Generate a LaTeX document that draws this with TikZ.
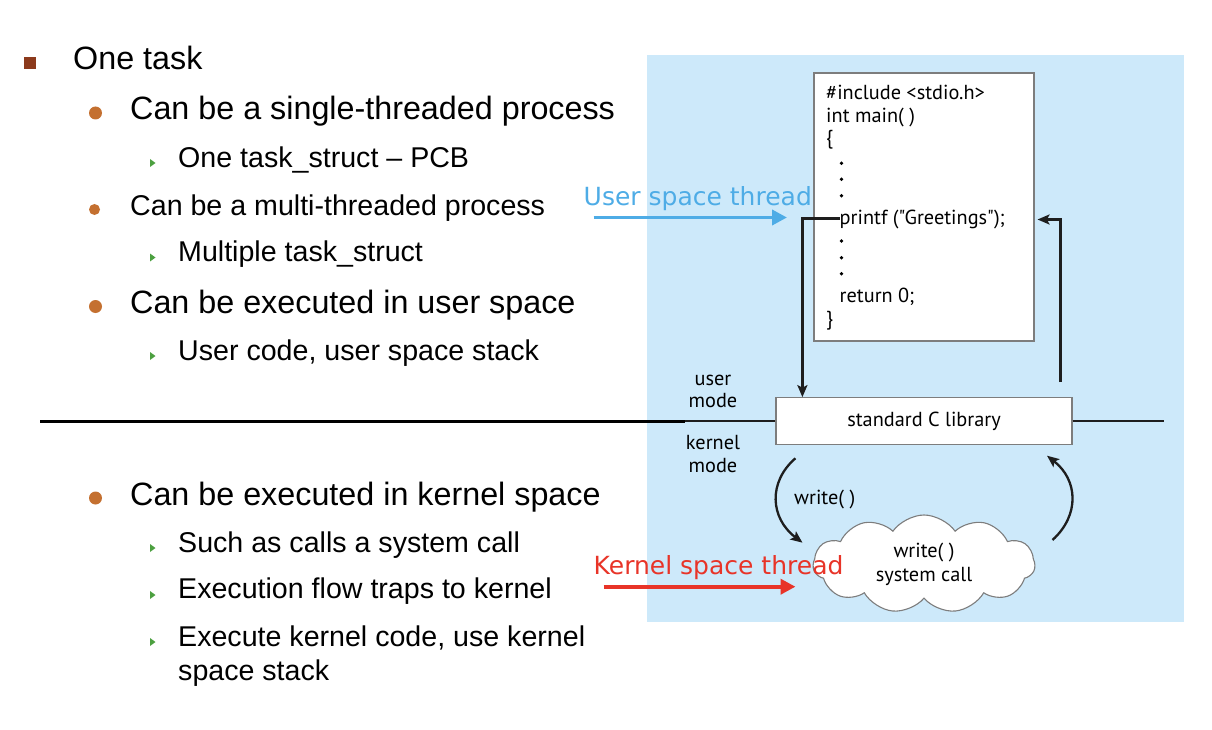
\documentclass[tikz,border=0pt]{standalone}
\usepackage{fontspec}
\setmainfont{Liberation Sans}
\newfontfamily\codefont{PT Sans}
\newfontfamily\notefont{DejaVu Sans}
\usetikzlibrary{shapes.symbols,arrows.meta}

\definecolor{panelblue}{RGB}{205,233,250}
\definecolor{sqbrown}{RGB}{140,58,28}
\definecolor{dotorange}{RGB}{196,112,48}
\definecolor{tipgreen}{RGB}{76,160,64}
\definecolor{userblue}{RGB}{78,172,230}
\definecolor{kernred}{RGB}{232,52,40}
\definecolor{boxgray}{RGB}{125,125,125}
\definecolor{inkdark}{RGB}{30,30,30}

\begin{document}
\begin{tikzpicture}[x=1pt,y=-1pt,
  lvlone/.style={anchor=base west, inner sep=0pt, font=\fontsize{32.3}{38}\selectfont},
  lvltwo/.style={anchor=base west, inner sep=0pt, font=\fontsize{32.3}{38}\selectfont},
  lvltwosmall/.style={anchor=base west, inner sep=0pt, font=\fontsize{28.6}{34}\selectfont},
  lvlthree/.style={anchor=base west, inner sep=0pt, font=\fontsize{28.6}{34}\selectfont},
  codeline/.style={anchor=base west, inner sep=0pt, font=\codefont\fontsize{20.3}{24}\selectfont},
  modelabel/.style={anchor=base, inner sep=0pt, font=\codefont\fontsize{20.3}{24}\selectfont},
  codedot/.style={fill=black},
  roundbullet/.style={fill=dotorange},
  flow/.style={draw=inkdark, line width=2.3pt, -{Stealth[length=12pt,width=10pt,inset=2.5pt]}},
  threadarrow/.style={line width=3.8pt, -{Triangle[length=15pt,width=15pt]}},
  threadlabel/.style={anchor=base west, inner sep=0pt, font=\notefont\fontsize{25}{30}\selectfont}
]
\useasboundingbox (0,0) rectangle (1212,730);

% background panel of the figure
\fill[panelblue] (647,55) rectangle (1184,621.5);

% ---------------- bullet list ----------------
\fill[sqbrown] (24,57) rectangle (36,69);
\node[lvlone] (t0) at (73,69.3) {One task};

\fill[roundbullet] (95.5,113) circle (6.5);
\node[lvltwo] (t1) at (130,120) {Can be a single-threaded process};
\fill[tipgreen] (150,159) -- (155.5,163) -- (150,167) -- cycle;
\node[lvlthree] (t1a) at (178,167.7) {One task\_struct -- PCB};

\fill[roundbullet] (94.5,209.5) circle (5.5);
\node[lvltwosmall] (t2) at (130,215) {Can be a multi-threaded process};
\fill[tipgreen] (150,253.5) -- (155.5,257.5) -- (150,261.5) -- cycle;
\node[lvlthree] (t2a) at (178,261.7) {Multiple task\_struct};

\fill[roundbullet] (95.5,306.5) circle (6.5);
\node[lvltwo] (t3) at (130,313) {Can be executed in user space};
\fill[tipgreen] (150,352) -- (155.5,356) -- (150,360) -- cycle;
\node[lvlthree] (t3a) at (178,360) {User code, user space stack};

\fill[roundbullet] (95.5,498) circle (6.5);
\node[lvltwo] (t4) at (130,505) {Can be executed in kernel space};
\fill[tipgreen] (150,544) -- (155.5,548) -- (150,552) -- cycle;
\node[lvlthree] (t4a) at (178,552.7) {Such as calls a system call};
\fill[tipgreen] (150,591) -- (155.5,595) -- (150,599) -- cycle;
\node[lvlthree] (t4b) at (178,598.5) {Execution flow traps to kernel};
\fill[tipgreen] (150,638) -- (155.5,642) -- (150,646) -- cycle;
\node[lvlthree] (t4c) at (178,646.5) {Execute kernel code, use kernel};
\node[lvlthree] (t4d) at (178,680.5) {space stack};

% ---------------- program box ----------------
\node[draw=boxgray, line width=1.2pt, fill=white, minimum width=220pt, minimum height=268pt, inner sep=0pt] (code) at (924,207) {};
\node[codeline] (inc) at (826,100) {\#include <stdio.h>};
\node[codeline] (mainfn) at (826,122.7) {int main( )};
\node[codeline] (open) at (826,145) {\{};
\foreach \yy in {163.3,179.3,195.7,241,257.7,273.7}
  \fill[codedot] (841.5,\yy) circle (1.9);
\node[codeline] (pf) at (839.5,225) {printf ("Greetings");};
\node[codeline] (ret) at (839.5,302.7) {return 0;};
\node[codeline] (close) at (826,325) {\}};

% ---------------- mode boundary ----------------
\node[draw=boxgray, line width=1.2pt, fill=white, minimum width=296pt, minimum height=46.5pt, inner sep=0pt,
      font=\codefont\fontsize{20.3}{24}\selectfont] (lib) at (924,421) {standard C library};
\coordinate (lineL) at (40,421);
\coordinate (lineM) at (685,421);
\coordinate (lineR) at (1164,421);
\draw[line width=3pt] (lineL) -- (lineM);
\draw[line width=2pt, inkdark] (lineM) -- (lib.west);
\draw[line width=2pt, inkdark] (lib.east) -- (lineR);

\node[modelabel] (um1) at (713,385) {user};
\node[modelabel] (um2) at (713,407.7) {mode};
\node[modelabel] (km1) at (713,449) {kernel};
\node[modelabel] (km2) at (713,472.7) {mode};

% call into the library and return to the program
\coordinate (callout) at (839.5,218.5);
\draw[flow] (callout) -| ([xshift=27pt]lib.north west);
\coordinate (back) at (1037.5,219.5);
\draw[flow] ([xshift=-12pt,yshift=15pt]lib.north east) |- (back);

% ---------------- system call ----------------
\node[cloud, draw=boxgray, line width=1.1pt, fill=white, cloud puffs=11, cloud puff arc=110, aspect=2.3,
      minimum width=222pt, minimum height=98pt, inner sep=0pt, align=center,
      font=\codefont\fontsize{20.3}{24}\selectfont] (sys) at (924,564) {write( )\\system call};

\coordinate (downA) at (795.4,458.3);
\coordinate (downB) at (802.5,542.7);
\coordinate (upA) at (1052.5,540);
\coordinate (upB) at (1047,455.7);
\draw[flow] (downA) .. controls (768,482) and (770,518) .. (downB);
\draw[flow] (upA) .. controls (1080,515) and (1078,480) .. (upB);
\node[codeline] (wr) at (794,504) {write( )};

% ---------------- thread annotations ----------------
\node[threadlabel, text=userblue] (ulab) at (583.5,206) {User space thread};
\coordinate (uS) at (593.5,217.5);
\coordinate (uE) at (787,217.5);
\draw[threadarrow, userblue] (uS) -- (uE);

\node[threadlabel, text=kernred] (klab) at (593.5,574.3) {Kernel space thread};
\coordinate (kS) at (603.5,586.7);
\coordinate (kE) at (795.5,586.7);
\draw[threadarrow, kernred] (kS) -- (kE);
\end{tikzpicture}
\end{document}
